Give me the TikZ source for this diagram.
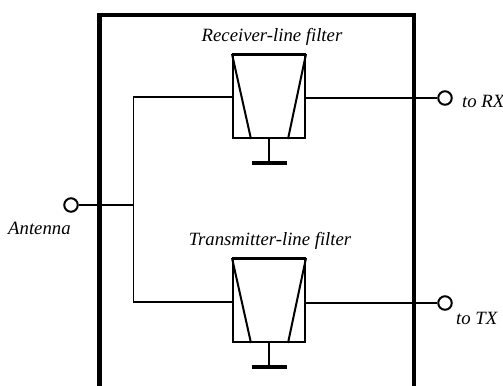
\documentclass[tikz,border=0pt]{standalone}
\usepackage{fontspec}
\setmainfont{Liberation Serif}
\begin{document}
\begin{tikzpicture}[x=1bp,y=-1bp,
  wire/.style={line width=1.7bp},
  frame/.style={line width=4.2bp},
  filterbox/.style={draw,line width=2bp,minimum width=72bp,minimum height=83bp,inner sep=0pt},
  topedge/.style={line width=2.6bp},
  slant/.style={line width=2bp},
  groundbar/.style={line width=3.6bp},
  port/.style={circle,draw,line width=2bp,minimum size=13.5bp,inner sep=0pt},
  lbl/.style={font=\itshape\fontsize{18.8}{20}\selectfont,inner sep=0pt}]
\useasboundingbox (0,0) rectangle (503,385);
\clip (0,0) rectangle (503,385);
% outer frame
\coordinate (fbl) at (99.5,392);
\coordinate (ftl) at (99.5,14.7);
\coordinate (ftr) at (414,14.7);
\coordinate (fbr) at (414,392);
\draw[frame] (fbl) -- (ftl) -- (ftr) -- (fbr);
% filters
\node[filterbox] (f1) at (269,96.5) {};
\node[filterbox] (f2) at (269,300.5) {};
\foreach \f/\g in {f1/g1,f2/g2}{
  \draw[topedge] (\f.north west) -- (\f.north east);
  \coordinate (\f bl) at ([xshift=19bp]\f.south west);
  \coordinate (\f br) at ([xshift=-18bp]\f.south east);
  \draw[slant] (\f.north west) -- (\f bl);
  \draw[slant] (\f.north east) -- (\f br);
}
% grounds
\coordinate (g1) at (269,163);
\coordinate (g2) at (269,367);
\draw[wire] (f1.south) -- (g1);
\draw[wire] (f2.south) -- (g2);
\draw[groundbar] ([xshift=-17.5bp]g1) -- ([xshift=17.5bp]g1);
\draw[groundbar] ([xshift=-17.5bp]g2) -- ([xshift=17.5bp]g2);
% ports
\node[port] (ant) at (71,205) {};
\node[port] (rx) at (445,98) {};
\node[port] (tx) at (445,303) {};
% wiring
\coordinate (j) at (133.5,205);
\draw[wire] (ant) -- (j);
\draw[wire] (f1.west |- 0,97) -- (133.5,97) -- (133.5,302) -- (f2.west |- 0,302);
\draw[wire] (f1.east |- rx) -- (rx);
\draw[wire] (f2.east |- tx) -- (tx);
% labels
\node[lbl] at (272,37) {Receiver-line filter};
\node[lbl] at (270,241) {Transmitter-line filter};
\node[lbl,anchor=west] at (8,228) {Antenna};
\node[lbl,anchor=west] at (462,101) {to RX};
\node[lbl,anchor=west] at (456,318) {to TX};
\end{tikzpicture}
\end{document}
